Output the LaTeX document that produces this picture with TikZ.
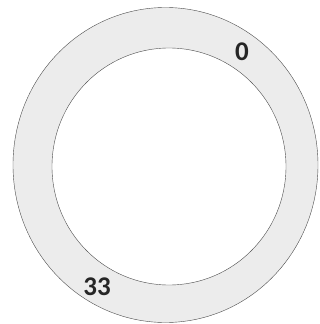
\documentclass[tikz,border=0pt]{standalone}
\usepackage{fontspec}
\setmainfont{Carlito}
\usepackage{tikz}
\usetikzlibrary{positioning}

\begin{document}
\begin{tikzpicture}[x=1pt,y=-1pt]
        \useasboundingbox (0,0) rectangle (320,324);
        % Draw the ring
        \fill[gray!15, even odd rule] (165.5,165) ellipse (152.5 and 157.5) (169,166.5) ellipse (117 and 118.5);
        \draw[gray!60!black, thin] (165.5,165) ellipse (152.5 and 157.5);
        \draw[gray!60!black, thin] (169,166.5) ellipse (117 and 118.5);
        % Label the start and the end
        \node[font=\fontsize{27}{30}\selectfont\bfseries, text=black!85] (start) at (242,52) {0};
        \node[font=\fontsize{27}{30}\selectfont\bfseries, text=black!85] (end) at (97,287) {33};
      \end{tikzpicture}
\end{document}
